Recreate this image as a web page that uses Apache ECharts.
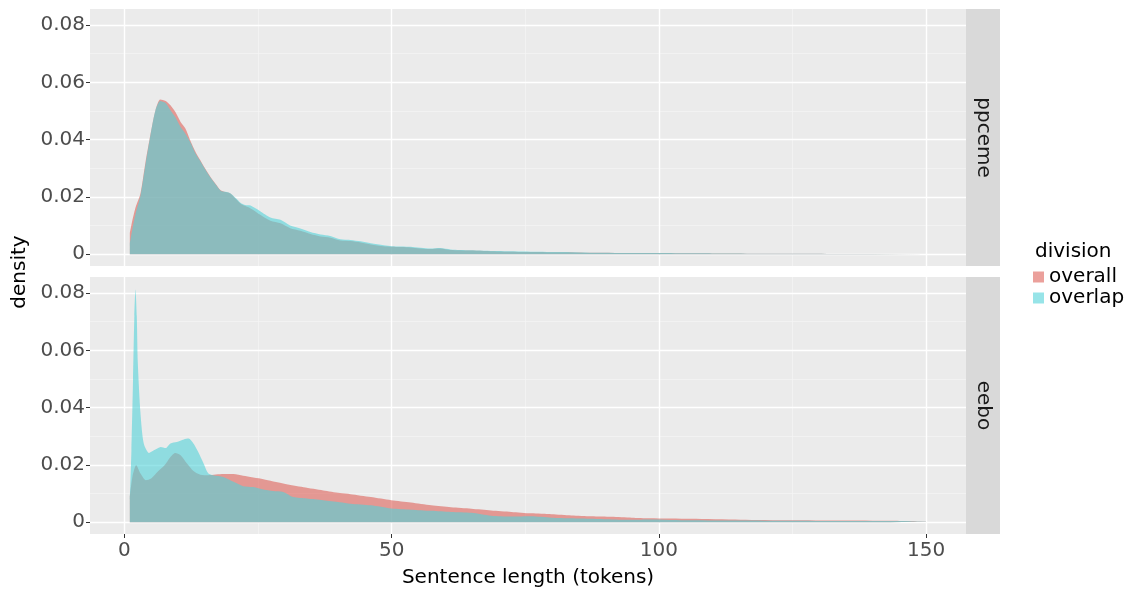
<!DOCTYPE html>
<html>
<head>
<meta charset="utf-8">
<script src="https://cdn.jsdelivr.net/npm/echarts@6/dist/echarts.min.js"></script>
<style>html,body{margin:0;background:#fff}#chart{width:1127px;height:590px}</style>
</head>
<body>
<div id="chart"></div>
<script>
// tick values
var xTicks = [0, 50, 100, 150];
var xMinor = [25, 75, 125];
var yTicks = [0, 0.02, 0.04, 0.06, 0.08];
var yMinor = [0.01, 0.03, 0.05, 0.07];
var panels = ['ppceme', 'eebo'];

// ppceme panel (shared x positions)
var ppcemeX = [1, 1.5, 2.1, 3, 3.9, 4.9, 5.8, 6.7, 7.7, 8.6, 9.5, 10.5, 11.4, 12.3, 13.3, 14.2, 15.1, 16.1, 17, 18,
  18.9, 19.8, 20.8, 21.7, 22.6, 23.6, 25.4, 27.3, 29.2, 31, 32.9, 34.8, 36.7, 38.5, 40.4, 42.3, 44.2, 46.1, 48.5, 50,
  53.5, 57.2, 59.1, 61, 64.7, 69.7, 75.9, 82.2, 88.4, 97.8, 110, 125, 140, 150];
var ppcemeOverall = [0.0073, 0.012, 0.0165, 0.0213, 0.0318, 0.0422, 0.0503, 0.054, 0.0535, 0.052, 0.0497, 0.0462, 0.0439, 0.0398, 0.0357, 0.0328, 0.0299, 0.027, 0.0247, 0.0223,
  0.0217, 0.0212, 0.0194, 0.0177, 0.0168, 0.016, 0.0138, 0.0117, 0.0108, 0.0091, 0.0082, 0.0071, 0.0062, 0.0058, 0.0048, 0.0046, 0.0041, 0.0034, 0.0028, 0.0026,
  0.0024, 0.0018, 0.002, 0.0015, 0.0013, 0.001, 0.0008, 0.0007, 0.0005, 0.0004, 0.0003, 0.0002, 0.0001, 0.0001];
var ppcemeOverlap = [0.0038, 0.009, 0.0143, 0.0205, 0.031, 0.042, 0.0503, 0.0535, 0.0528, 0.0503, 0.0479, 0.0444, 0.0421, 0.0392, 0.0352, 0.0325, 0.0297, 0.0268, 0.0245, 0.0222,
  0.0218, 0.0213, 0.0196, 0.018, 0.0172, 0.017, 0.015, 0.0128, 0.012, 0.01, 0.009, 0.0078, 0.0069, 0.0064, 0.0052, 0.005, 0.0045, 0.0038, 0.0031, 0.0028,
  0.0026, 0.002, 0.0022, 0.0017, 0.0014, 0.0011, 0.0009, 0.0008, 0.0005, 0.0004, 0.0003, 0.0002, 0.0001, 0.0001];

// eebo panel
var eeboOverallX = [1, 1.5, 2.2, 3, 4, 5, 6.2, 7.5, 8.6, 9.5, 10.5, 11.7, 12.9, 14.2, 15.7, 18.5, 20.4, 22.2, 26, 29.7,
  33.5, 37.2, 40.3, 42.3, 46.1, 49.9, 53.6, 57.4, 61.1, 64.9, 68.6, 72.4, 76.1, 79.9, 83.6, 87.4, 91.1, 94.9, 98.3, 105.9,
  115.2, 124.6, 134, 143.3, 150];
var eeboOverall = [0.0088, 0.016, 0.0199, 0.017, 0.0147, 0.0153, 0.0176, 0.0199, 0.0228, 0.0242, 0.0234, 0.0205, 0.0179, 0.0166, 0.0164, 0.0168, 0.0168, 0.0162, 0.015, 0.0135,
  0.0122, 0.0111, 0.0102, 0.0098, 0.0088, 0.0077, 0.0069, 0.0059, 0.0052, 0.0047, 0.0041, 0.0036, 0.0031, 0.0028, 0.0024, 0.0021, 0.0019, 0.0016, 0.0014, 0.0012,
  0.0009, 0.0007, 0.0006, 0.0005, 0.0003];
var eeboOverlapX = [1, 1.3, 1.6, 1.85, 2.06, 2.3, 2.5, 3, 3.6, 4.6, 5.5, 6.8, 7.7, 8.6, 9.8, 11.1, 12, 12.9, 13.8, 14.8,
  15.7, 16.6, 18.5, 20.4, 22.2, 24.1, 26, 27.8, 29.7, 31.6, 34.1, 37.2, 40.3, 42.3, 46.1, 49.9, 53.6, 57.4, 61.1, 64.9,
  68.6, 72.4, 76.1, 79.9, 83.6, 87.4, 91.1, 94.9, 98.3, 105.9, 115.2, 124.6, 134, 143.3, 150];
var eeboOverlap = [0.008, 0.025, 0.0496, 0.072, 0.0812, 0.072, 0.0555, 0.038, 0.0276, 0.0242, 0.0251, 0.0263, 0.0259, 0.0275, 0.028, 0.0289, 0.0292, 0.0275, 0.0245, 0.0205,
  0.017, 0.0164, 0.0158, 0.0141, 0.0126, 0.0123, 0.0114, 0.0109, 0.0106, 0.0088, 0.0083, 0.0077, 0.007, 0.0065, 0.0059, 0.0048, 0.0044, 0.004, 0.0036, 0.0033,
  0.0023, 0.002, 0.0021, 0.0016, 0.0014, 0.0012, 0.001, 0.0009, 0.001, 0.0007, 0.0006, 0.0005, 0.0004, 0.0004, 0.0003];

var colOverall = 'rgba(222,97,88,0.6)';
var colOverlap = 'rgba(82,210,217,0.6)';
var font = 'DejaVu Sans';

// panel layout (px) and data ranges
var pLeft = 90, pWidth = 876, pHeight = 257, pTops = [9, 277];
var xMin = -6.45, xMax = 157.45, yMin = -0.0041, yMax = 0.0856;

function pairs(xs, ys) {
  return xs.map(function (x, i) { return [x, ys[i]]; });
}

// where the tick range sits inside a panel
var tickLeft = pLeft + (0 - xMin) / (xMax - xMin) * pWidth;
var tickWidth = 150 / (xMax - xMin) * pWidth;
var tickTopOff = (yMax - 0.08) / (yMax - yMin) * pHeight;
var tickHeight = 0.08 / (yMax - yMin) * pHeight;

var tickStyle = {show: true, length: 4, lineStyle: {color: '#333', width: 1}};
var labelStyle = {fontSize: 20, color: '#4D4D4D', fontFamily: font, margin: 5};

var grids = [], xAxes = [], yAxes = [], series = [];
pTops.forEach(function (top, i) {
  grids.push({left: pLeft, top: top, width: pWidth, height: pHeight, show: true,
    backgroundColor: '#EBEBEB', borderWidth: 0});
  xAxes.push({type: 'value', gridIndex: i, min: xMin, max: xMax, show: false});
  yAxes.push({type: 'value', gridIndex: i, min: yMin, max: yMax, show: false});
});
// y tick grids: full panel width, tick range height -> axis sits on the panel edge
pTops.forEach(function (top, i) {
  grids.push({left: pLeft, top: top + tickTopOff, width: pWidth, height: tickHeight});
  xAxes.push({type: 'value', gridIndex: i + 2, min: 0, max: 1, show: false});
  yAxes.push({type: 'value', gridIndex: i + 2, min: 0, max: 0.08, interval: 0.02,
    axisLine: {show: false}, splitLine: {show: false}, axisTick: tickStyle,
    axisLabel: Object.assign({}, labelStyle, {
      formatter: function (v) { return v === 0 ? '0' : v.toFixed(2); }})});
});
// x tick grid: tick range width, full bottom panel height
grids.push({left: tickLeft, top: pTops[1], width: tickWidth, height: pHeight});
xAxes.push({type: 'value', gridIndex: 4, min: 0, max: 150, interval: 50,
  axisLine: {show: false}, splitLine: {show: false}, axisTick: tickStyle,
  axisLabel: Object.assign({}, labelStyle, {margin: 7})});
yAxes.push({type: 'value', gridIndex: 4, min: 0, max: 1, show: false});

// panel grid lines, behind the areas
function gridLines(i) {
  var d = [];
  var minor = {color: '#F4F4F4', width: 0.8, opacity: 1};
  var major = {color: '#FFFFFF', width: 1.4, opacity: 1};
  xMinor.forEach(function (v) { d.push({coords: [[v, yMin], [v, yMax]], lineStyle: minor}); });
  yMinor.forEach(function (v) { d.push({coords: [[xMin, v], [xMax, v]], lineStyle: minor}); });
  xTicks.forEach(function (v) { d.push({coords: [[v, yMin], [v, yMax]], lineStyle: major}); });
  yTicks.forEach(function (v) { d.push({coords: [[xMin, v], [xMax, v]], lineStyle: major}); });
  return {type: 'lines', coordinateSystem: 'cartesian2d', xAxisIndex: i, yAxisIndex: i,
    data: d, z: 1, silent: true, animation: false, lineStyle: {opacity: 1}};
}

function area(name, i, xs, ys, color) {
  return {type: 'line', name: name, xAxisIndex: i, yAxisIndex: i, data: pairs(xs, ys),
    smooth: 0.25, showSymbol: false, z: 2, animation: false,
    itemStyle: {color: color}, lineStyle: {width: 0}, areaStyle: {color: color, opacity: 1}};
}

series.push(gridLines(0), gridLines(1));
series.push(area('overall', 0, ppcemeX, ppcemeOverall, colOverall));
series.push(area('overlap', 0, ppcemeX, ppcemeOverlap, colOverlap));
series.push(area('overall', 1, eeboOverallX, eeboOverall, colOverall));
series.push(area('overlap', 1, eeboOverlapX, eeboOverlap, colOverlap));

var graphics = [];
pTops.forEach(function (top, i) {
  graphics.push({type: 'rect', shape: {x: pLeft + pWidth, y: top, width: 34, height: pHeight},
    style: {fill: '#D9D9D9'}});
  graphics.push({type: 'text', x: pLeft + pWidth + 17, y: top + pHeight / 2, rotation: -Math.PI / 2,
    style: {text: panels[i], font: '20px "DejaVu Sans"', fill: '#1A1A1A', align: 'center', verticalAlign: 'middle'}});
});
graphics.push({type: 'text', x: 20, y: 272, rotation: Math.PI / 2,
  style: {text: 'density', font: '20px "DejaVu Sans"', fill: '#000', align: 'center', verticalAlign: 'middle'}});
graphics.push({type: 'text', x: pLeft + pWidth / 2, y: 578,
  style: {text: 'Sentence length (tokens)', font: '20px "DejaVu Sans"', fill: '#000', align: 'center', verticalAlign: 'middle'}});
graphics.push({type: 'text', x: 1035, y: 252,
  style: {text: 'division', font: '20px "DejaVu Sans"', fill: '#000', align: 'left', verticalAlign: 'middle'}});

var chart = echarts.init(document.getElementById('chart'));
chart.setOption({
  animation: false,
  grid: grids,
  xAxis: xAxes,
  yAxis: yAxes,
  legend: {
    orient: 'vertical', left: 1033, top: 267, padding: 0, itemGap: 1,
    itemWidth: 11, itemHeight: 11, icon: 'rect',
    textStyle: {fontSize: 20, color: '#000', fontFamily: font},
    data: [{name: 'overall', itemStyle: {color: colOverall}}, {name: 'overlap', itemStyle: {color: colOverlap}}]
  },
  graphic: graphics,
  series: series
});
</script>
</body>
</html>
